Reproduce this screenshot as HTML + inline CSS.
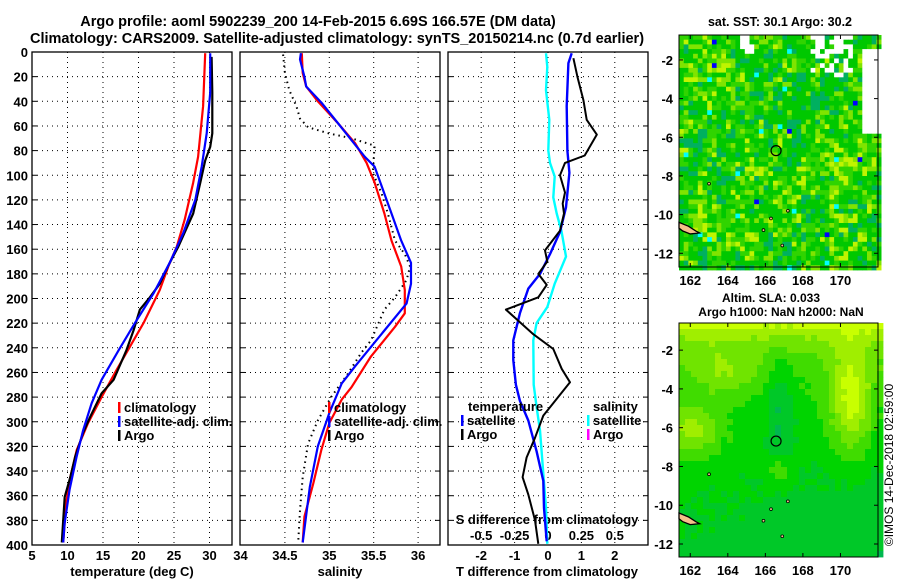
<!DOCTYPE html>
<html><head><meta charset="utf-8"><style>
html,body{margin:0;padding:0;background:#fff;}
svg{display:block;font-family:"Liberation Sans",sans-serif;font-weight:bold;}
</style></head><body>
<svg id="fig" width="900" height="580" viewBox="0 0 900 580" xmlns="http://www.w3.org/2000/svg">
<text x="318" y="26" font-size="14.5" text-anchor="middle">Argo profile: aoml 5902239_200 14-Feb-2015 6.69S 166.57E (DM data)</text>
<text x="337" y="43" font-size="14.5" text-anchor="middle">Climatology: CARS2009. Satellite-adjusted climatology: synTS_20150214.nc (0.7d earlier)</text>
<text x="780" y="26" font-size="12.5" text-anchor="middle">sat. SST: 30.1 Argo: 30.2</text>
<text x="771" y="302" font-size="12" text-anchor="middle">Altim. SLA: 0.033</text>
<text x="781" y="316" font-size="12" text-anchor="middle">Argo h1000: NaN h2000: NaN</text>
<text font-size="12" font-weight="normal" text-anchor="middle" transform="translate(893,465) rotate(-90)">©IMOS 14-Dec-2018 02:59:00</text>
<g id="panels"></g>
<g id="maps"></g>
</svg>
<script>
// ---------- data ----------
const depthTicks = [0,20,40,60,80,100,120,140,160,180,200,220,240,260,280,300,320,340,360,380,400];
const tempTicks = [5,10,15,20,25,30];
const salTicks = [34,34.5,35,35.5,36];
const dtTicks = [-2,-1,0,1,2];
const dsTickLabels = ['-0.5','-0.25','0','0.25','0.5'];
const dsTickValues = [-0.5,-0.25,0,0.25,0.5];

const tClimDepth = [1,44,85,106,136,158,174,193,220,239,258,280,301,323,345,366,398];
const tClimVal   = [29.4,29.1,28.4,27.7,26.5,25.4,24.2,23.0,20.7,18.8,16.9,14.8,12.9,11.3,10.4,9.8,9.4];
const tSatDepth  = [1,33,66,93,120,147,171,196,220,242,266,285,307,328,355,382,398];
const tSatVal    = [30.1,30.1,29.6,28.9,28.0,26.3,24.4,22.1,19.5,17.2,14.8,13.4,12.2,11.3,10.3,9.6,9.4];
const tArgoDepth = [4,33,66,77,88,106,131,158,171,188,199,209,226,242,266,277,296,309,328,345,361,398];
const tArgoVal   = [30.3,30.4,30.4,30.1,29.4,28.7,27.7,25.6,24.4,23.0,21.6,20.2,19.3,18.3,16.5,14.8,13.2,12.2,11.1,10.4,9.6,9.2];

const sClimDepth = [1,17,28,40,58,74,90,106,131,153,174,193,212,223,247,272,282,301,323,350,377,398];
const sClimVal   = [34.69,34.70,34.74,34.87,35.10,35.29,35.42,35.51,35.62,35.70,35.81,35.85,35.85,35.74,35.47,35.25,35.14,35.00,34.91,34.82,34.72,34.70];
const sSatDepth  = [1,6,20,28,41,58,76,85,93,109,131,153,171,188,204,226,255,269,293,320,353,398];
const sSatVal    = [34.68,34.67,34.72,34.74,34.91,35.10,35.30,35.40,35.51,35.59,35.70,35.81,35.92,35.92,35.87,35.62,35.29,35.14,35.00,34.87,34.78,34.70];
const sArgoDepth = [2,17,31,44,54,61,66,70,76,98,115,131,153,164,174,185,199,209,234,244,261,280,299,318,345,372,398];
const sArgoVal   = [34.48,34.50,34.55,34.63,34.67,34.76,34.99,35.25,35.51,35.49,35.59,35.66,35.74,35.85,35.91,35.87,35.74,35.62,35.47,35.36,35.21,35.02,34.87,34.76,34.70,34.67,34.65];

const dtArgoDepth = [5,20,39,55,67,84,90,100,114,123,131,145,161,170,180,189,199,209,218,229,241,257,268,295,313,329,345,359,380,399];
const dtArgoVal   = [0.76,0.88,1.06,1.16,1.46,1.10,0.51,0.36,0.51,0.44,0.48,0.36,-0.09,-0.02,-0.29,-0.04,-0.29,-1.26,-0.89,-0.44,0.16,0.41,0.66,-0.14,-0.39,-0.64,-0.76,-0.59,-0.39,-0.29];
const dtSatDepth  = [1,9,44,80,98,126,146,164,180,192,212,234,250,270,283,299,324,348,370,397];
const dtSatVal    = [0.71,0.61,0.56,0.58,0.64,0.54,0.36,0.06,-0.24,-0.59,-0.84,-1.04,-1.04,-0.96,-0.84,-0.59,-0.34,-0.14,-0.12,-0.04];
const dsSatDepth  = [1,12,31,55,80,90,101,118,131,145,166,188,207,220,234,270,288,307,342,370,399];
const dsSatVal    = [-0.015,-0.005,-0.015,0.01,0.002,0.015,0.05,0.04,0.065,0.10,0.135,0.05,-0.005,-0.085,-0.11,-0.107,-0.085,-0.06,-0.035,-0.015,-0.005];

// ---------- scales ----------
const Y0 = 52, YS = 1.2325, YB = 545;
const yD = d => Y0 + d*YS;
const xT = t => 32 + (t-5)*7.1;
const xS = s => 240.5 + (s-34)*88.8;
const xDT = v => 548 + v*33.4;
const xDS = v => 548 + v*133.6;
const NS = 'http://www.w3.org/2000/svg';
function mk(tag, attrs, parent){ const e=document.createElementNS(NS,tag); for(const k in attrs) e.setAttribute(k,attrs[k]); parent.appendChild(e); return e; }
const G = document.getElementById('panels');

const panels = [
  {x0:32,x1:232,name:'temperature-panel',grid:tempTicks.slice(1),sx:xT},
  {x0:240,x1:440,name:'salinity-panel',grid:salTicks.slice(1),sx:xS},
  {x0:448,x1:648,name:'difference-panel',grid:dtTicks,sx:xDT}
];
panels.forEach(p=>{
  const g = mk('g',{},G);
  
  
  depthTicks.slice(1,-1).forEach(d=>{
    const l = mk('line',{x1:p.x0,x2:p.x1,y1:yD(d),y2:yD(d),stroke:'#000','stroke-width':1,'stroke-dasharray':'1 4'},g);
    
    
    mk('line',{x1:p.x0,x2:p.x0+5,y1:yD(d),y2:yD(d),stroke:'#000'},g);
    mk('line',{x1:p.x1-5,x2:p.x1,y1:yD(d),y2:yD(d),stroke:'#000'},g);
  });
  p.grid.forEach(v=>{
    const l = mk('line',{x1:p.sx(v),x2:p.sx(v),y1:Y0,y2:YB,stroke:'#000','stroke-width':1,'stroke-dasharray':'1 4'},g);
    
    
  });
  const r = mk('rect',{x:p.x0,y:Y0,width:p.x1-p.x0,height:YB-Y0,fill:'none',stroke:'#000','stroke-width':1.3},g);
  
  
});

depthTicks.forEach(d=>{
  const t = mk('text',{x:28,y:yD(d)+5,'font-size':13,'text-anchor':'end'},G);
  
  
  t.textContent = d;
});
function xlabels(vals, labels, sx, y){
  vals.forEach((v,i)=>{
    const t = mk('text',{x:sx(v),y:y,'font-size':13,'text-anchor':'middle'},G);
    
    
    t.textContent = labels[i];
  });
}
xlabels(tempTicks, tempTicks.map(String), xT, 560);
xlabels(salTicks, salTicks.map(String), xS, 560);
xlabels(dtTicks, dtTicks.map(String), xDT, 560);
xlabels(dsTickValues, dsTickLabels, xDS, 540);
function axTitle(txt,x,y,name){ const t=mk('text',{x:x,y:y,'font-size':13,'text-anchor':'middle'},G);
  
  
  t.textContent=txt; }
axTitle('temperature (deg C)',132,576,'temperature-axis-title');
axTitle('salinity',340,576,'salinity-axis-title');
axTitle('T difference from climatology',547,576,'t-difference-axis-title');
axTitle('S difference from climatology',547,524,'s-difference-axis-title');

function line(depths, vals, sx, color, w, name, dash){
  const pts = depths.map((d,i)=>sx(vals[i]).toFixed(1)+','+yD(d).toFixed(1)).join(' ');
  const a = {points:pts,fill:'none',stroke:color,'stroke-width':w,'stroke-linejoin':'round'};
  if(dash) a['stroke-dasharray']=dash;
  const pl = mk('polyline',a,G);
  
  
}
line(tClimDepth,tClimVal,xT,'#f00',2.2,'temp-climatology-line');
line(tArgoDepth,tArgoVal,xT,'#000',2.2,'temp-argo-line');
line(tSatDepth,tSatVal,xT,'#00f',2.2,'temp-satellite-line');
line(sArgoDepth,sArgoVal,xS,'#000',2,'salinity-argo-line','1.5 4');
line(sClimDepth,sClimVal,xS,'#f00',2.2,'salinity-climatology-line');
line(sSatDepth,sSatVal,xS,'#00f',2.2,'salinity-satellite-line');
line(dsSatDepth,dsSatVal,xDS,'#0ff',2.4,'s-diff-satellite-line');
line(dtSatDepth,dtSatVal,xDT,'#00f',2.4,'t-diff-satellite-line');
line(dtArgoDepth,dtArgoVal,xDT,'#000',2,'t-diff-argo-line');

function legend(x,y,color,label){
  const b = mk('rect',{x:x,y:y-10,width:2.5,height:11,fill:color},G);
  
  
  const t = mk('text',{x:x+6,y:y,'font-size':13},G);
  
  
  t.textContent = label;
}
legend(118,412,'#f00','climatology');legend(118,426,'#00f','satellite-adj. clim.');legend(118,440,'#000','Argo');
legend(328,412,'#f00','climatology');legend(328,426,'#00f','satellite-adj. clim.');legend(328,440,'#000','Argo');
(function(){const t=mk('text',{x:468,y:411,'font-size':13},G);t.textContent='temperature';
const s=mk('text',{x:593,y:411,'font-size':13},G);s.textContent='salinity';})();
legend(461,425,'#00f','satellite');legend(461,439,'#000','Argo');
legend(587,425,'#0ff','satellite');legend(587,439,'#f0f','Argo');

// ---------- maps ----------
const M = document.getElementById('maps');
function hash(i,j,s){ let h=(i*374761393 + j*668265263 + s*982451653)|0; h=(h^(h>>>13))*1274126177; h=h^(h>>>16); return ((h>>>0)%1000)/1000; }
function gb(fx,fy,cx,cy,sx,sy){ return Math.exp(-((fx-cx)**2/sx+(fy-cy)**2/sy)); }
function drawMap(x0,y0,x1,y1,lonL,lonR,latT,latB,kind,name){
  const g = mk('g',{},M);
  
  
  const cs = kind==='sst'?4.7:6;
  const nx = Math.ceil((x1-x0)/cs), ny=Math.ceil((y1-y0)/cs);
  let html='';
  for(let j=0;j<ny;j++)for(let i=0;i<nx;i++){
    const fx=i/nx, fy=j/ny; let c;
    if(kind==='sst'){
      let r=0.55*hash(i,j,1)+0.45*hash(i>>1,j>>1,2);
      const yb = 0.5*gb(fx,fy,0.85,0.5,0.02,0.02)+0.4*gb(fx,fy,0.15,0.8,0.02,0.01)+0.4*gb(fx,fy,0.2,0.15,0.01,0.01)+0.3*gb(fx,fy,0.35,0.6,0.01,0.01);
      const tb = 0.4*gb(fx,fy,0.55,0.25,0.03,0.02);
      r = Math.min(0.999, Math.max(0, r + yb*0.45 - tb*0.45));
      if(r<0.25) c='#00b060'; else if(r<0.55) c='#00c800'; else if(r<0.7) c='#30d400'; else if(r<0.84) c='#80e400'; else c='#c0f400';
      const r2=hash(i,j,7);
      if(r2<0.01) c='#00ffff'; else if(r2<0.014) c='#0000ff';
      if(fy<0.08&&fx>0.28&&fx<0.35&&hash(i,j,3)<0.7) c='#fff';
      if(fy<0.18&&fx>0.65&&fx<0.85&&hash(i,j,3)<0.25+ (0.18-fy)*3) c='#fff';
      if(fx>0.9&&fy>0.05&&fy<0.42) c='#fff';
    } else {
      let v = 0.32 + 0.08*(1-fy) - 0.12*fy*fx - 0.08*fy
            + 0.45*Math.exp(-fy/0.12)
            + 0.55*gb(fx,fy,0.83,0.32,0.012,0.05)
            + 0.40*gb(fx,fy,0.05,0.45,0.02,0.012)
            + 0.30*gb(fx,fy,0.48,0.62,0.003,0.004)
            + 0.25*gb(fx,fy,0.2,0.2,0.03,0.01)
            - 0.22*gb(fx,fy,0.48,0.35,0.004,0.06)
            + 0.05*hash(i,j,5);
      const pal=['#00b850','#00c828','#00d400','#40dc00','#70e400','#a0ee00','#c8ff00'];
      c=pal[Math.max(0,Math.min(6,Math.floor(v*7)))];
    }
    html+=`<rect x="${(x0+i*cs).toFixed(1)}" y="${(y0+j*cs).toFixed(1)}" width="${cs+0.4}" height="${cs+0.4}" fill="${c}"/>`;
  }
  const cells = mk('g',{},g);
  
  
  cells.innerHTML=html;
  const lx = lon => x0+(lon-lonL)/(lonR-lonL)*(x1-x0);
  const ly = lat => y0+(latT-lat)/(latT-latB)*(y1-y0);
  const land = mk('path',{d:`M${lx(161.4)},${ly(-10.4)} L${lx(161.9)},${ly(-10.6)} L${lx(162.3)},${ly(-10.85)} L${lx(162.5)},${ly(-10.95)} L${lx(162.0)},${ly(-11.0)} L${lx(161.6)},${ly(-10.85)} L${lx(161.4)},${ly(-10.7)} Z`,fill:'#f4c08a',stroke:'#000','stroke-width':1.3},g);
  
  
  [[165.9,-10.8],[166.3,-10.2],[166.9,-11.6],[167.2,-9.8],[163,-8.4]].forEach(p=>{
    mk('circle',{cx:lx(p[0]),cy:ly(p[1]),r:1.4,fill:'#f4c08a',stroke:'#000','stroke-width':0.8},g);
  });
  mk('rect',{x:x0,y:y0,width:x1-x0,height:y1-y0,fill:'none',stroke:'#000','stroke-width':1},g);
  const mkC = mk('circle',{cx:lx(166.57),cy:ly(-6.69),r:5,fill:'none',stroke:'#000','stroke-width':1.2},g);
  
  
  [162,164,166,168,170].forEach(lon=>{
    mk('line',{x1:lx(lon),x2:lx(lon),y1:y0,y2:y0+4,stroke:'#000'},g);
    mk('line',{x1:lx(lon),x2:lx(lon),y1:y1-4,y2:y1,stroke:'#000'},g);
    const t=mk('text',{x:lx(lon),y:y1+18,'font-size':13,'text-anchor':'middle'},g);
    
    
    t.textContent=lon;
  });
  [-2,-4,-6,-8,-10,-12].forEach(lat=>{
    mk('line',{x1:x0,x2:x0+4,y1:ly(lat),y2:ly(lat),stroke:'#000'},g);
    mk('line',{x1:x1-4,x2:x1,y1:ly(lat),y2:ly(lat),stroke:'#000'},g);
    const t=mk('text',{x:x0-6,y:ly(lat)+5,'font-size':13,'text-anchor':'end'},g);
    
    
    t.textContent=lat;
  });
}
drawMap(679,35,878,267,161.4,172.0,-0.71,-12.71,'sst','sst-map');
drawMap(679,323,878,557,161.4,172.0,-0.6,-12.67,'sla','sla-map');
</script>
</body></html>
